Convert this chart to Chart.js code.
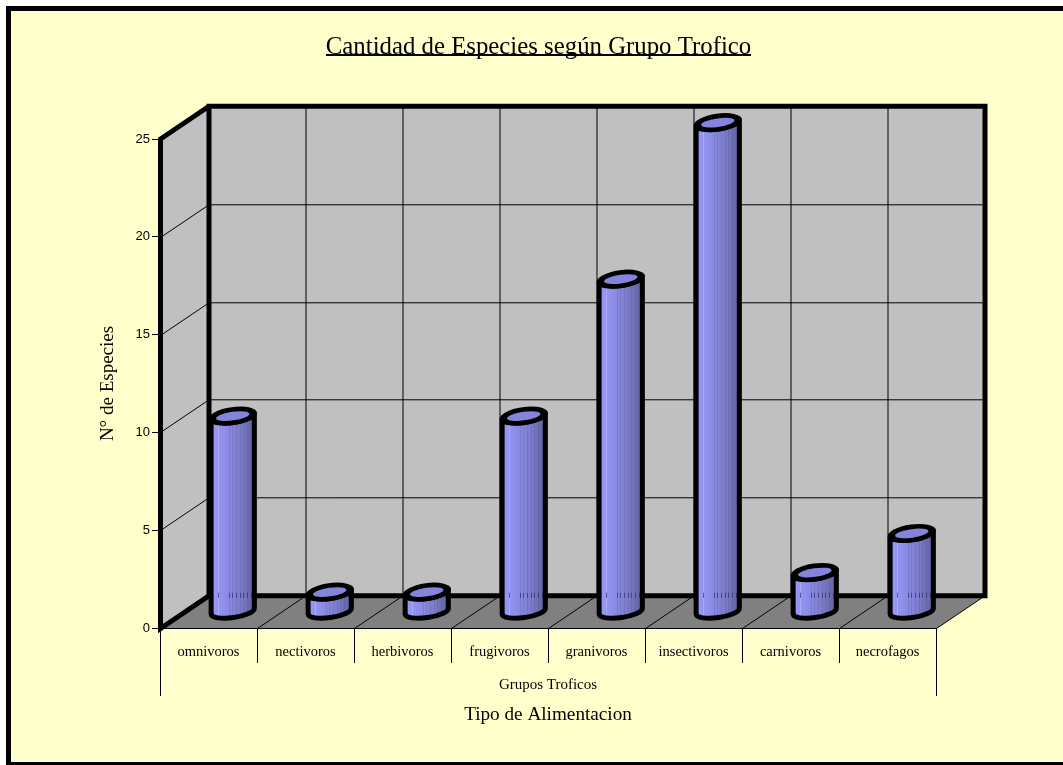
<!DOCTYPE html>
<html><head><meta charset="utf-8">
<script src="https://cdn.jsdelivr.net/npm/chart.js@4/dist/chart.umd.min.js"></script>
<style>
html,body{margin:0;padding:0;background:#fff;overflow:hidden}
#frame{position:absolute;left:6px;top:6px;width:1057px;height:751px;background:#FFFFCC;border-left:5px solid #000;border-top:5px solid #000;border-bottom:3px solid #000}
canvas{display:block}
</style></head><body>
<div id="frame"><canvas id="c" width="1052" height="751"></canvas></div>
<script>
const categories = ['omnivoros','nectivoros','herbivoros','frugivoros','granivoros','insectivoros','carnivoros','necrofagos'];
const species = [10,1,1,10,17,25,2,4];
const groupLabels = ['Grupos Troficos'];
const chartTitle = 'Cantidad de Especies según Grupo Trofico';
const yTitle = 'N° de Especies';
const xTitle = 'Tipo de Alimentacion';
const SERIF = '"Liberation Serif","Times New Roman",serif';
const SANS = '"Liberation Sans",Arial,sans-serif';
const TITLE_SIZE = 24.8;
const DEPTH_X = 48.5, DEPTH_Y = 32.7;
const STRIPES = [.16,.41,.49,.57,.66,.74,.82,.92];

const box3d = {
  id:'box3d',
  afterLayout(chart){
    chart.titleBlock.left=3;chart.titleBlock.right=chart.width;
  },
  beforeDatasetsDraw(chart){
    const {ctx,chartArea:a,scales:{x,y}} = chart;
    const L=a.left+.5,R=a.right+.5,T=y.getPixelForValue(25),B=y.getPixelForValue(0)+.5;
    const dx=DEPTH_X,dy=DEPTH_Y;
    ctx.save();
    ctx.fillStyle='#C0C0C0';
    ctx.fillRect(L+dx,T-dy,R-L,B-T);
    ctx.beginPath();ctx.moveTo(L,T);ctx.lineTo(L+dx,T-dy);ctx.lineTo(L+dx,B-dy);ctx.lineTo(L,B);ctx.closePath();ctx.fill();
    ctx.fillStyle='#808080';
    ctx.beginPath();ctx.moveTo(L,B);ctx.lineTo(L+dx,B-dy);ctx.lineTo(R+dx,B-dy);ctx.lineTo(R,B);ctx.closePath();ctx.fill();
    ctx.strokeStyle='#000';ctx.lineWidth=1;
    const cat=(R-L)/categories.length;
    y.ticks.forEach(t=>{
      if(t.value<=0||t.value>=25)return;
      const p=Math.round(y.getPixelForValue(t.value))+.5;
      ctx.beginPath();ctx.moveTo(L,p);ctx.lineTo(L+dx,p-dy);ctx.lineTo(R+dx,p-dy);ctx.stroke();
    });
    categories.forEach((c,i)=>{
      if(i===0)return;
      const px=Math.round(x.getPixelForValue(i)-cat/2)+.5;
      ctx.beginPath();ctx.moveTo(px,B);ctx.lineTo(px+dx,B-dy);ctx.lineTo(px+dx,T-dy);ctx.stroke();
    });
    ctx.beginPath();ctx.moveTo(L,B);ctx.lineTo(R,B);ctx.lineTo(R+dx,B-dy);ctx.stroke();
    ctx.lineWidth=5;ctx.lineJoin='miter';
    ctx.beginPath();
    ctx.moveTo(L+dx,B-dy);ctx.lineTo(L+dx,T-dy);ctx.lineTo(R+dx,T-dy);ctx.lineTo(R+dx,B-dy);ctx.lineTo(L+dx,B-dy);
    ctx.lineTo(L,B);ctx.lineTo(L,T);ctx.lineTo(L+dx,T-dy);
    ctx.stroke();
    ctx.restore();
  },
  beforeDatasetDraw(chart,args){
    const {ctx,scales:{y}} = chart;
    const dx=DEPTH_X/2,dy=DEPTH_Y/2,rot=-8*Math.PI/180,wallY=y.getPixelForValue(0)-DEPTH_Y;
    args.meta.data.forEach(el=>{
      const cx=el.x+dx,yt=el.y-dy,yb=el.base-dy,rx=el.width/2,ry=6.5;
      const g=ctx.createLinearGradient(cx-rx,0,cx+rx,0);
      g.addColorStop(0,'#9A9AFC');g.addColorStop(.35,'#8C8CE8');g.addColorStop(.7,'#7A7AC6');g.addColorStop(1,'#5E5E9C');
      ctx.save();
      const body=()=>{ctx.beginPath();ctx.ellipse(cx,yb,rx,ry,rot,Math.PI,0,true);ctx.ellipse(cx,yt,rx,ry,rot,0,Math.PI,false);ctx.closePath();};
      body();ctx.fillStyle=g;ctx.fill();
      ctx.save();body();ctx.clip();
      STRIPES.forEach((f,i)=>{
        const sx=Math.round(cx-rx+f*2*rx)+.5;
        ctx.strokeStyle=i===0?'rgba(190,190,255,.55)':'rgba(70,70,130,.18)';ctx.lineWidth=1;
        ctx.beginPath();ctx.moveTo(sx,yt-10);ctx.lineTo(sx,yb+10);ctx.stroke();
        if(yt<wallY-3){ctx.strokeStyle='rgba(40,40,90,.65)';ctx.beginPath();ctx.moveTo(sx,wallY-2.5);ctx.lineTo(sx,wallY+2.5);ctx.stroke();}
      });
      ctx.restore();
      ctx.strokeStyle='#000';ctx.lineWidth=5;ctx.lineJoin='round';
      body();ctx.stroke();
      // cap: solid rim with a narrower lit face inside
      ctx.beginPath();ctx.ellipse(cx,yt,rx+2.5,ry+2.5,rot,0,Math.PI*2);ctx.fillStyle='#000';ctx.fill();
      ctx.beginPath();ctx.ellipse(cx,yt,rx-5,ry-2.2,rot,0,Math.PI*2);ctx.fillStyle='#8484DC';ctx.fill();
      ctx.restore();
    });
    return false;
  },
  afterDraw(chart){
    const {ctx,titleBlock:t}=chart;
    ctx.save();
    ctx.font=TITLE_SIZE+'px '+SERIF;
    const w=ctx.measureText(chartTitle).width;
    ctx.fillStyle='#000';
    ctx.fillRect(Math.round((t.left+t.right)/2-w/2),43,Math.round(w),2);
    ctx.restore();
  }
};

new Chart(document.getElementById('c'),{
  type:'bar',
  data:{labels:categories,datasets:[{label:yTitle,data:species,backgroundColor:'#9999FF',borderColor:'#000',categoryPercentage:1,barPercentage:.45}]},
  plugins:[box3d],
  options:{
    responsive:false,animation:false,devicePixelRatio:1,
    layout:{padding:{left:85.6,right:127,top:0,bottom:0}},
    plugins:{
      legend:{display:false},tooltip:{enabled:false},
      title:{display:true,text:chartTitle,color:'#000',font:{family:SERIF,size:TITLE_SIZE,weight:'normal'},padding:{top:22.1,bottom:76.14}}
    },
    scales:{
      x:{
        type:'category',position:'bottom',weight:0,offset:true,
        grid:{offset:true,drawOnChartArea:false,tickLength:35,tickColor:'#000',tickWidth:1},
        border:{display:false},
        ticks:{color:'#000',padding:-20,maxRotation:0,autoSkip:false,font:{family:SERIF,size:14.5}},
        afterFit(s){s.height=35;}
      },
      x2:{
        type:'category',position:'bottom',weight:1,offset:true,labels:groupLabels,
        grid:{offset:true,drawOnChartArea:false,tickLength:33,tickColor:'#000',tickWidth:1},
        border:{display:false},
        ticks:{color:'#000',padding:-19.7,maxRotation:0,font:{family:SERIF,size:15}},
        title:{display:true,text:xTitle,color:'#000',font:{family:SERIF,size:19.2},padding:{top:0,bottom:36}},
        afterFit(s){s.height=99;}
      },
      y:{
        type:'linear',min:0,max:25,
        grid:{drawOnChartArea:false,tickLength:8,tickColor:'#000',tickWidth:1},
        border:{display:false},
        ticks:{stepSize:5,color:'#000',padding:2,font:{family:SANS,size:13}},
        title:{display:true,text:yTitle,color:'#000',font:{family:SERIF,size:19},padding:0},
        afterFit(s){s.width=63.4;}
      }
    }
  }
});
</script>
</body></html>
